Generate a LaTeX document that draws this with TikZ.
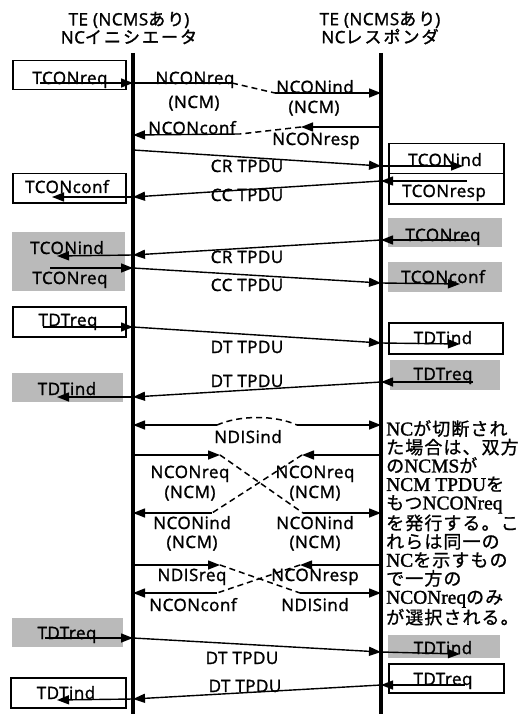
\documentclass[tikz,border=0pt]{standalone}
\usepackage{fontspec}
\usetikzlibrary{arrows.meta}
\newfontfamily\lblfont[LetterSpace=3,FakeBold=1.5]{Open Sans}
\newfontfamily\jptitle[LetterSpace=12,FakeBold=1.5]{Noto Sans CJK JP}
\newfontfamily\jpnote[LetterSpace=6,FakeBold=1]{Noto Sans CJK JP}
\newfontfamily\notelatin[FakeBold=1.5,Scale=1.08]{Liberation Serif}
\begin{document}
\begin{tikzpicture}[x=1pt,y=-1pt,
  lifeline/.style={line width=3.2pt},
  msg/.style={line width=1.4pt,-{Triangle[length=12pt,width=9pt]}},
  plain/.style={line width=1.4pt},
  dsh/.style={line width=1.5pt,dash pattern=on 6pt off 4pt},
  wbox/.style={draw,line width=1.5pt,inner sep=0,anchor=north west},
  gbox/.style={fill=black!27,inner sep=0,anchor=north west},
  lbl/.style={font=\lblfont\fontsize{17}{19}\selectfont,inner sep=0,text height=12pt,text depth=0pt},
  ttl/.style={font=\lblfont\fontsize{17}{18}\selectfont,inner sep=0,align=center},
  memo/.style={font=\notelatin\fontsize{18}{18.5}\selectfont,inner sep=0,align=left,anchor=north west}]
\useasboundingbox (0,0) rectangle (523,714);
% headers and lifelines
\node[ttl] (iniHead) at (129,28) {TE (NCMS{\jptitle あり})\\NC{\jptitle イニシエータ}};
\node[ttl] (resHead) at (380,28) {TE (NCMS{\jptitle あり})\\NC{\jptitle レスポンダ}};
\coordinate (iniTop) at (133,53); \coordinate (iniBot) at (133,714);
\coordinate (resTop) at (381,53); \coordinate (resBot) at (381,714);
\draw[lifeline] (iniTop) -- (iniBot); \draw[lifeline] (resTop) -- (resBot);
% boxes
\node[wbox,minimum width=113pt,minimum height=29pt] (bTCONreq) at (12,60) {};
\node[wbox,minimum width=115pt,minimum height=30pt] (bTCONind) at (388,143) {};
\node[wbox,minimum width=115pt,minimum height=30pt] (bTCONresp) at (388,173) {};
\node[wbox,minimum width=113pt,minimum height=29pt] (bTCONconf) at (12,173) {};
\node[gbox,minimum width=114pt,minimum height=29pt] (sTCONreq) at (388,218) {};
\node[gbox,minimum width=113pt,minimum height=59pt] (sTCONind) at (12,232) {};
\node[gbox,minimum width=114pt,minimum height=30pt] (sTCONconf) at (388,262) {};
\node[wbox,minimum width=113pt,minimum height=30pt] (bTDTreq) at (12,306) {};
\node[wbox,minimum width=114pt,minimum height=31pt] (bTDTind) at (388,322) {};
\node[gbox,minimum width=110pt,minimum height=30pt] (sTDTreq) at (390,360) {};
\node[gbox,minimum width=111pt,minimum height=29pt] (sTDTind) at (12,373) {};
\node[gbox,minimum width=111pt,minimum height=29pt] (sTDTreqB) at (12,618) {};
\node[gbox,minimum width=112pt,minimum height=23pt] (sTDTindB) at (388,635) {};
\node[wbox,minimum width=115pt,minimum height=29pt] (bTDTreqB) at (388,663) {};
\node[wbox,minimum width=115pt,minimum height=30pt] (bTDTindB) at (10,677) {};
% box texts
\node[lbl] (tTCONreq) at (70,78) {TCONreq}; \node[lbl] (tTCONind) at (445,160) {TCONind};
\node[lbl] (tTCONresp) at (444,191) {TCONresp}; \node[lbl] (tTCONconf) at (67,187) {TCONconf};
\node[lbl] (tTCONreqR) at (443,235) {TCONreq}; \node[lbl] (tTCONindL) at (67,248) {TCONind};
\node[lbl] (tTCONreqL) at (70,278) {TCONreq}; \node[lbl] (tTCONconfR) at (443,277) {TCONconf};
\node[lbl] (tTDTreq) at (68,320) {TDTreq}; \node[lbl] (tTDTind) at (443,338) {TDTind};
\node[lbl] (tTDTreqR) at (443,374) {TDTreq}; \node[lbl] (tTDTindL) at (67,389) {TDTind};
\node[lbl] (tTDTreqL) at (67,633) {TDTreq}; \node[lbl] (tTDTindR) at (443,648) {TDTind};
\node[lbl] (tTDTreqR2) at (443,679) {TDTreq}; \node[lbl] (tTDTindL2) at (66,693) {TDTind};
% message labels
\node[lbl] (mNCONreq) at (195,78) {NCONreq}; \node[lbl] (mNCM1) at (194,102) {(NCM)};
\node[lbl] (mNCONind) at (315,87) {NCONind}; \node[lbl] (mNCM2) at (314,107) {(NCM)};
\node[lbl] (mNCONconf) at (192,128) {NCONconf}; \node[lbl] (mNCONresp) at (316,139) {NCONresp};
\node[lbl] (mCR1) at (247,166) {CR TPDU}; \node[lbl] (mCC1) at (247,195) {CC TPDU};
\node[lbl] (mCR2) at (247,257) {CR TPDU}; \node[lbl] (mCC2) at (247,285) {CC TPDU};
\node[lbl] (mDT1) at (247,347) {DT TPDU}; \node[lbl] (mDT2) at (247,381) {DT TPDU};
\node[lbl] (mNDISind) at (248,437) {NDISind};
\node[lbl] (xNCONreqL) at (190,472) {NCONreq}; \node[lbl] (xNCM1) at (190,492) {(NCM)};
\node[lbl] (xNCONreqR) at (315,472) {NCONreq}; \node[lbl] (xNCM2) at (315,492) {(NCM)};
\node[lbl] (xNCONindL) at (192,523) {NCONind}; \node[lbl] (xNCM3) at (192,542) {(NCM)};
\node[lbl] (xNCONindR) at (315,523) {NCONind}; \node[lbl] (xNCM4) at (315,542) {(NCM)};
\node[lbl] (xNDISreq) at (192,575) {NDISreq}; \node[lbl] (xNCONresp) at (315,575) {NCONresp};
\node[lbl] (xNCONconf) at (193,605) {NCONconf}; \node[lbl] (xNDISind) at (315,605) {NDISind};
\node[lbl] (mDT3) at (242,658) {DT TPDU}; \node[lbl] (mDT4) at (245,686) {DT TPDU};
% note
\node[memo] (note) at (386,420) {NC{\jpnote が切断され}\\{\jpnote た場合は、双方}\\{\jpnote の}NCMS{\jpnote が}\\NCM TPDU{\jpnote を}\\{\jpnote もつ}NCONreq\\{\jpnote を発行する。こ}\\{\jpnote れらは同一の}\\NC{\jpnote を示すもの}\\{\jpnote で一方の}\\NCONreq{\jpnote のみ}\\{\jpnote が選択される。}};
% connection set-up
\coordinate (a1) at (40,83); \coordinate (a2) at (133,83); \coordinate (a3) at (232,83);
\coordinate (a4) at (275,93); \coordinate (a5) at (381,93);
\draw[msg] (a1) -- (a2); \draw[plain] (a2) -- (a3); \draw[dsh] (a3) -- (a4); \draw[msg] (a4) -- (a5);
\coordinate (b1) at (381,127); \coordinate (b2) at (301,127); \coordinate (b3) at (240,134); \coordinate (b4) at (133,135);
\draw[msg] (b1) -- (b2); \draw[dsh] (b2) -- (b3); \draw[msg] (b3) -- (b4);
\coordinate (c1) at (133,150); \coordinate (c2) at (381,166); \coordinate (c3) at (463,166);
\coordinate (c4) at (467,181); \coordinate (c5) at (381,181); \coordinate (c6) at (133,197); \coordinate (c7) at (52,197);
\draw[msg] (c1) -- (c2); \draw[msg] (c2) -- (c3); \draw[msg] (c4) -- (c5); \draw[msg] (c5) -- (c6); \draw[msg] (c6) -- (c7);
% collision
\coordinate (d1) at (470,240); \coordinate (d2) at (381,240); \coordinate (d3) at (133,255); \coordinate (d4) at (57,256);
\coordinate (d5) at (50,268); \coordinate (d6) at (133,268); \coordinate (d7) at (381,283); \coordinate (d8) at (460,284);
\draw[msg] (d1) -- (d2); \draw[msg] (d2) -- (d3); \draw[msg] (d3) -- (d4);
\draw[msg] (d5) -- (d6); \draw[msg] (d6) -- (d7); \draw[msg] (d7) -- (d8);
% data
\coordinate (e1) at (43,327); \coordinate (e2) at (133,327); \coordinate (e3) at (381,343); \coordinate (e4) at (460,344);
\draw[msg] (e1) -- (e2); \draw[msg] (e2) -- (e3); \draw[msg] (e3) -- (e4);
\coordinate (f1) at (473,382); \coordinate (f2) at (381,382); \coordinate (f3) at (133,397); \coordinate (f4) at (57,397);
\draw[msg] (f1) -- (f2); \draw[msg] (f2) -- (f3); \draw[msg] (f3) -- (f4);
% disconnect and re-establish
\coordinate (g1) at (133,425); \coordinate (g2) at (217,425); \coordinate (g3) at (297,425); \coordinate (g4) at (381,425);
\draw[msg] (g2) -- (g1); \draw[dsh] (g2) .. controls (240,415) and (275,415) .. (g3); \draw[msg] (g3) -- (g4);
\coordinate (h1) at (133,455); \coordinate (h2) at (220,455); \coordinate (h3) at (303,513); \coordinate (h4) at (381,513);
\draw[msg] (h1) -- (h2); \draw[dsh] (h2) -- (h3); \draw[msg] (h3) -- (h4);
\coordinate (k1) at (381,455); \coordinate (k2) at (302,455); \coordinate (k3) at (212,513); \coordinate (k4) at (133,513);
\draw[msg] (k1) -- (k2); \draw[dsh] (k2) -- (k3); \draw[msg] (k3) -- (k4);
\coordinate (m1) at (133,565); \coordinate (m2) at (220,565); \coordinate (m3) at (300,593); \coordinate (m4) at (381,593);
\draw[msg] (m1) -- (m2); \draw[dsh] (m2) -- (m3); \draw[msg] (m3) -- (m4);
\coordinate (n1) at (381,565); \coordinate (n2) at (300,565); \coordinate (n3) at (217,593); \coordinate (n4) at (133,593);
\draw[msg] (n1) -- (n2); \draw[dsh] (n2) -- (n3); \draw[msg] (n3) -- (n4);
% data again
\coordinate (p1) at (45,638); \coordinate (p2) at (133,638); \coordinate (p3) at (381,652); \coordinate (p4) at (460,654);
\draw[msg] (p1) -- (p2); \draw[msg] (p2) -- (p3); \draw[msg] (p3) -- (p4);
\coordinate (q1) at (465,685); \coordinate (q2) at (381,685); \coordinate (q3) at (133,699); \coordinate (q4) at (57,700);
\draw[msg] (q1) -- (q2); \draw[msg] (q2) -- (q3); \draw[msg] (q3) -- (q4);
\end{tikzpicture}
\end{document}
